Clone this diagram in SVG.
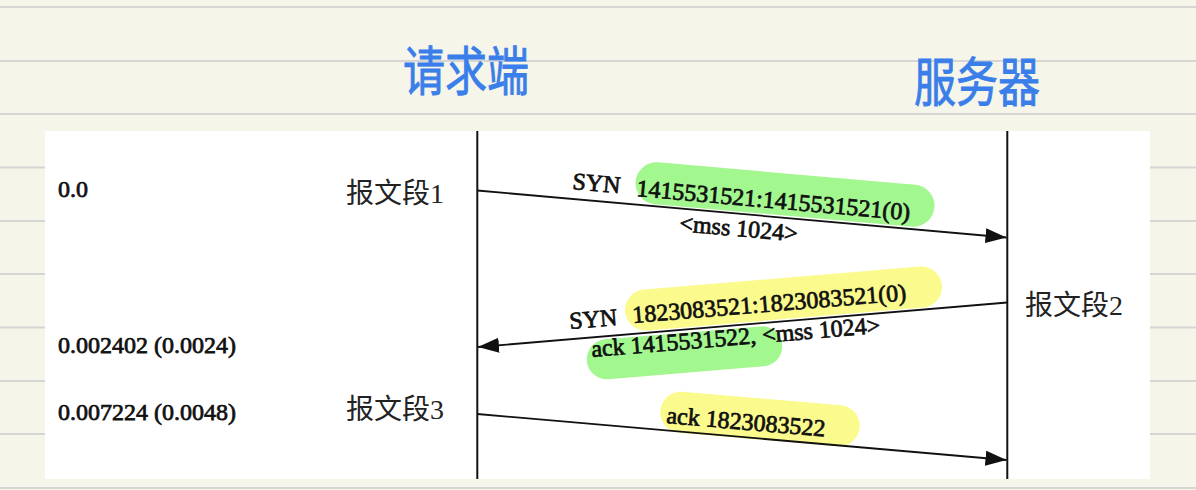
<svg xmlns="http://www.w3.org/2000/svg" width="1196" height="490" viewBox="0 0 1196 490">
  <style>
    .rule { stroke: #d5d5d3; stroke-width: 2; }
    .life { stroke: #111; stroke-width: 2; fill: none; }
    .msg { stroke: #111; stroke-width: 1.8; fill: none; }
    .lat { font-family: "Liberation Serif", "Noto Serif", serif; font-size: 24px; fill: #111; stroke: #111; stroke-width: 0.75; }
    .seg { font-family: "Liberation Serif", "Noto Sans CJK SC", sans-serif; font-size: 28px; fill: #222; }
    .hand { font-family: "Noto Sans CJK SC", sans-serif; font-size: 42px; fill: #3a7ee9; stroke: #3a7ee9; stroke-width: 0.7; }
    .hg { fill: #a2f78f; }
    .hy { fill: #fbfa8d; }
  </style>
  <defs>
    <marker id="arr" markerUnits="userSpaceOnUse" markerWidth="22" markerHeight="16" refX="21" refY="7.5" orient="auto">
      <path d="M0,0 L21,7.5 L0,15 Z" fill="#111"/>
    </marker>
  </defs>

  <!-- paper background -->
  <rect x="0" y="0" width="1196" height="490" fill="#f6f5ea"/>
  <g id="rules">
    <line class="rule" x1="0" y1="7" x2="1196" y2="7"/>
    <line class="rule" x1="0" y1="61" x2="1196" y2="61"/>
    <line class="rule" x1="0" y1="114" x2="1196" y2="114"/>
    <line class="rule" x1="0" y1="167.5" x2="1196" y2="167.5"/>
    <line class="rule" x1="0" y1="221" x2="1196" y2="221"/>
    <line class="rule" x1="0" y1="274" x2="1196" y2="274"/>
    <line class="rule" x1="0" y1="327.5" x2="1196" y2="327.5"/>
    <line class="rule" x1="0" y1="381" x2="1196" y2="381"/>
    <line class="rule" x1="0" y1="434" x2="1196" y2="434"/>
    <line class="rule" x1="0" y1="488" x2="1196" y2="488"/>
  </g>
  <rect x="45" y="131" width="1105" height="348" fill="#ffffff"/>

  <!-- handwritten titles -->
  <g id="title-client">
    <text class="hand" x="466" y="91" text-anchor="middle" transform="translate(466,91) scale(1,1.28) translate(-466,-91)">请求端</text>
  </g>
  <g id="title-server">
    <text class="hand" x="977" y="102" text-anchor="middle" transform="translate(977,102) scale(1,1.28) translate(-977,-102)">服务器</text>
  </g>

  <!-- lifelines -->
  <g id="client">
    <line class="life" x1="477.3" y1="131" x2="477.3" y2="479"/>
  </g>
  <g id="server">
    <line class="life" x1="1007.3" y1="131" x2="1007.3" y2="479"/>
  </g>

  <!-- highlights -->
  <g id="highlights">
    <rect class="hg" x="-150" y="-21" width="300" height="42" rx="21" transform="translate(785,194.5) rotate(5)"/>
    <rect class="hy" x="-159" y="-20.5" width="318" height="41" rx="20.5" transform="translate(783.5,298.5) rotate(-4.75)"/>
    <rect class="hg" x="-98" y="-20" width="196" height="40" rx="20" transform="translate(684.5,352.8) rotate(-4.75)"/>
    <rect class="hy" x="-100" y="-20.5" width="200" height="41" rx="20.5" transform="translate(760,419) rotate(4.9)"/>
  </g>

  <!-- connectors -->
  <g id="connectors">
    <line class="msg" x1="477.3" y1="190.5" x2="1006.5" y2="237.5" marker-end="url(#arr)"/>
    <line class="msg" x1="1007.3" y1="302.5" x2="478" y2="347" marker-end="url(#arr)"/>
    <line class="msg" x1="477.3" y1="414" x2="1006.5" y2="460" marker-end="url(#arr)"/>
  </g>

  <!-- time labels -->
  <g id="times">
    <text class="lat" x="58" y="197">0.0</text>
    <text class="lat" x="58" y="353">0.002402 (0.0024)</text>
    <text class="lat" x="58" y="420">0.007224 (0.0048)</text>
  </g>

  <!-- segment labels -->
  <g id="seg1"><text class="seg" x="346" y="203">报文段1</text></g>
  <g id="seg2"><text class="seg" x="1025" y="315">报文段2</text></g>
  <g id="seg3"><text class="seg" x="346" y="419">报文段3</text></g>

  <!-- message labels -->
  <g id="msg1-labels">
    <text class="lat" transform="translate(572,189) rotate(5.07)">SYN</text>
    <text class="lat" transform="translate(636,196) rotate(5.07)">1415531521:1415531521(0)</text>
    <text class="lat" transform="translate(679,231) rotate(5.07)">&lt;mss 1024&gt;</text>
  </g>
  <g id="msg2-labels">
    <text class="lat" transform="translate(570,329) rotate(-4.75)">SYN</text>
    <text class="lat" transform="translate(633,323) rotate(-4.75)">1823083521:1823083521(0)</text>
    <text class="lat" transform="translate(592,357) rotate(-4.75)">ack 1415531522, &lt;mss 1024&gt;</text>
  </g>
  <g id="msg3-labels">
    <text class="lat" transform="translate(666,423) rotate(4.9)">ack 1823083522</text>
  </g>
</svg>
